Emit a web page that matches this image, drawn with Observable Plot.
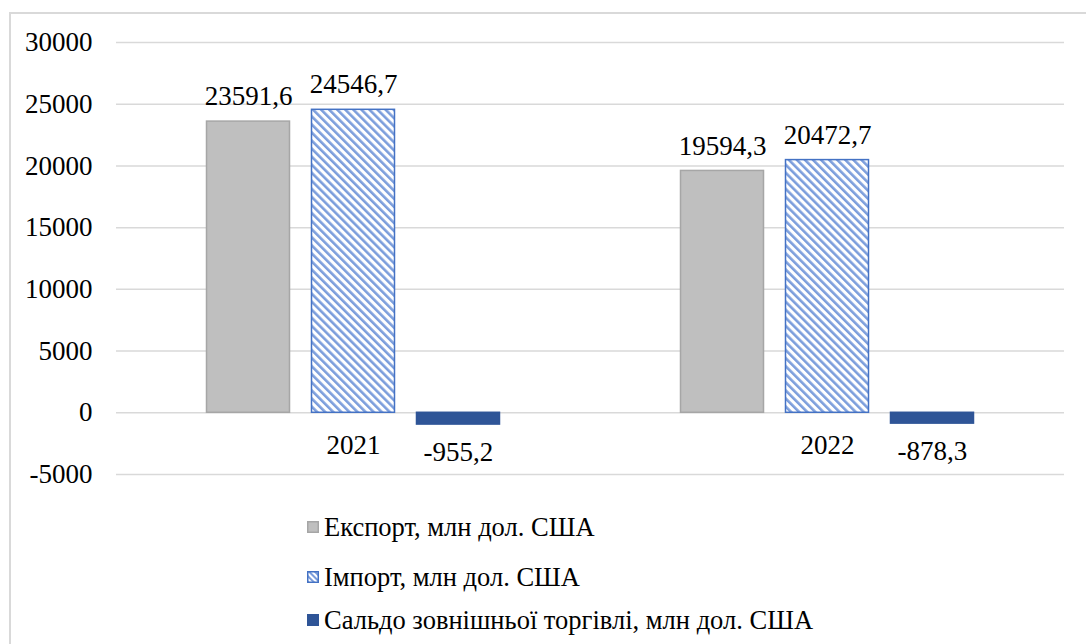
<!DOCTYPE html>
<html>
<head>
<meta charset="utf-8">
<script src="https://cdn.jsdelivr.net/npm/d3@7"></script>
<script src="https://cdn.jsdelivr.net/npm/@observablehq/plot@0.6"></script>
<style>
  html, body { margin: 0; padding: 0; background: #fff; overflow: hidden; }
  body { width: 1086px; height: 644px; position: relative; font-family: 'Liberation Serif', serif; }
  #frame { position: absolute; left: 9px; top: 12px; width: 1100px; height: 700px; border: 2px solid #d9d9d9; box-sizing: border-box; }
  #chart { position: absolute; left: 0; top: 0; }
  #chart svg, #chart svg text { font-family: 'Liberation Serif', serif !important; }
  #legend { position: absolute; left: 0; top: 0; font-size: 26.5px; color: #000; font-family: 'Liberation Serif', serif; }
  .item { position: absolute; left: 307px; white-space: nowrap; display: flex; align-items: center; height: 30px; font-family: 'Liberation Serif', serif; }
  .item svg { margin-right: 5px; }
</style>
</head>
<body>
<div id="frame"></div>
<div id="chart"></div>
<div id="legend"></div>
<script>
const years = ["2021", "2022"];
const series = [
  "Експорт, млн дол. США",
  "Імпорт, млн дол. США",
  "Сальдо зовнішньої торгівлі, млн дол. США"
];
const exportValues = [23591.6, 19594.3];
const importValues = [24546.7, 20472.7];
const saldoValues = [-955.2, -878.3];
const yTicks = [-5000, 0, 5000, 10000, 15000, 20000, 25000, 30000];

const valuesBySeries = [exportValues, importValues, saldoValues];
const data = years.flatMap((year, i) =>
  series.map((s, j) => ({ year, series: s, value: valuesBySeries[j][i] }))
);
const fmt = v => v.toFixed(1).replace(".", ",");
const fills = ["#bfbfbf", "url(#hatch)", "#2f5597"];
const strokes = ["#a6a6a6", "#4472c4", "#2f5597"];

const plot = Plot.plot({
  width: 1086,
  height: 500,
  marginLeft: 116,
  marginRight: 22,
  marginTop: 42,
  marginBottom: 26,
  style: { fontFamily: "'Liberation Serif', serif", fontSize: "27px", color: "#000", background: "transparent" },
  fx: { domain: years, padding: 0, axis: null },
  x: { domain: series, paddingInner: 0.2095, paddingOuter: 0.862, axis: null, round: false },
  y: { domain: [-5000, 30000] },
  marks: [
    Plot.ruleY(yTicks, { stroke: "#d9d9d9", strokeWidth: 1.5 }),
    Plot.axisY({ ticks: yTicks, tickSize: 0, tickPadding: 24, tickFormat: d => String(d), label: null, fill: "#000" }),
    ...series.map((s, j) =>
      Plot.barY(data.filter(d => d.series === s), {
        fx: "year", x: "series", y: "value",
        fill: fills[j], stroke: strokes[j], strokeWidth: 1.5
      })
    ),
    Plot.text(data.filter(d => d.value > 0), {
      fx: "year", x: "series", y: "value", text: d => fmt(d.value),
      lineAnchor: "middle", dy: -25, fill: "#000"
    }),
    Plot.text(data.filter(d => d.value < 0), {
      fx: "year", x: "series", y: "value", text: d => fmt(d.value),
      lineAnchor: "middle", dy: 28, fill: "#000"
    }),
    Plot.text(years, {
      fx: d => d, y: () => 0, text: d => d, lineAnchor: "middle", dy: 33, fill: "#000"
    })
  ]
});

const defs = document.createElementNS("http://www.w3.org/2000/svg", "defs");
defs.innerHTML = `<pattern id="hatch" width="5.7" height="6" patternUnits="userSpaceOnUse" patternTransform="rotate(-45)">
  <rect width="5.7" height="6" fill="#ffffff"></rect>
  <rect width="2.6" height="6" fill="#7c9edc"></rect>
</pattern>`;
plot.insertBefore(defs, plot.firstChild);
document.getElementById("chart").appendChild(plot);

const legend = document.getElementById("legend");
const swatchSvg = j => {
  if (j === 1) {
    return `<svg width="12" height="12"><defs><pattern id="hatchL" width="4" height="4" patternUnits="userSpaceOnUse" patternTransform="rotate(-45)"><rect width="4" height="4" fill="#fff"/><rect width="2" height="4" fill="#7c9edc"/></pattern></defs><rect x="0.75" y="0.75" width="10.5" height="10.5" fill="url(#hatchL)" stroke="#4472c4" stroke-width="1.5"/></svg>`;
  }
  return `<svg width="12" height="12"><rect x="0.75" y="0.75" width="10.5" height="10.5" fill="${fills[j]}" stroke="${strokes[j]}" stroke-width="1.5"/></svg>`;
};
const rowTops = [512, 562, 605];
series.forEach((s, j) => {
  const div = document.createElement("div");
  div.className = "item";
  div.style.top = rowTops[j] + "px";
  div.innerHTML = swatchSvg(j) + `<span>${s}</span>`;
  legend.appendChild(div);
});
</script>
</body>
</html>
